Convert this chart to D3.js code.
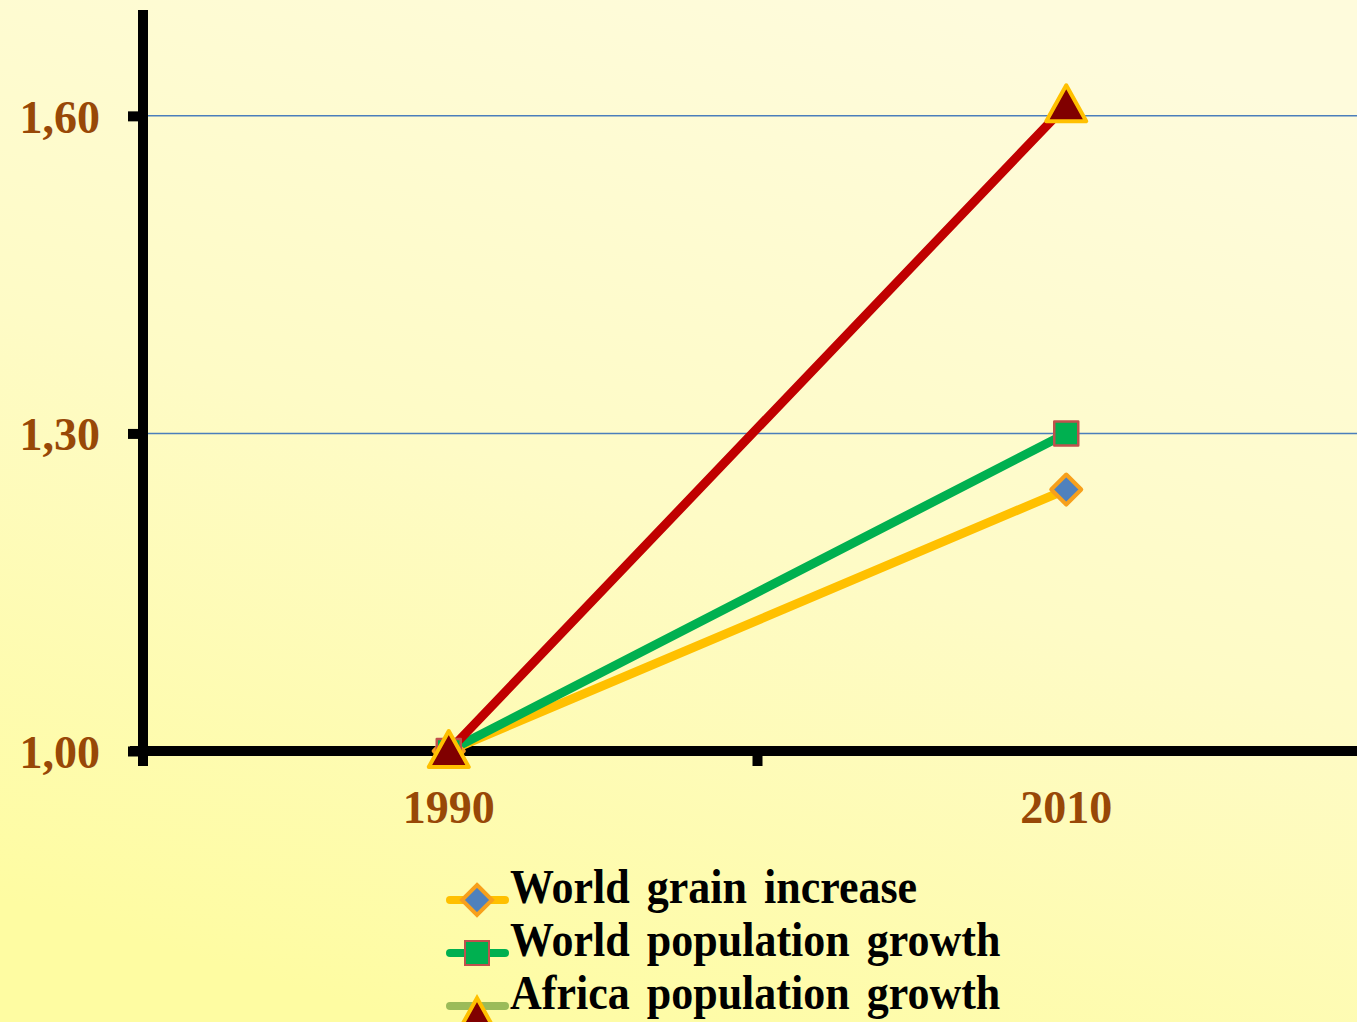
<!DOCTYPE html>
<html>
<head>
<meta charset="utf-8">
<script src="https://cdn.jsdelivr.net/npm/d3@7"></script>
<style>
  html, body { margin: 0; padding: 0; overflow: hidden; }
  svg { display: block; }
</style>
</head>
<body>
<div id="chart"></div>
<script>
const WIDTH = 1357;
const HEIGHT = 1022;

// data
const years = ['1990', '2010'];
const yTicks = [1.00, 1.30, 1.60];
const seriesNames = ['World grain increase', 'World population growth', 'Africa population growth'];
const grainValues = [1.00, 1.247];
const worldPopValues = [1.00, 1.30];
const africaPopValues = [1.00, 1.61];

const svg = d3.select('#chart')
  .append('svg')
  .attr('width', WIDTH)
  .attr('height', HEIGHT);

// background gradient
const defs = svg.append('defs');
const grad = defs.append('linearGradient')
  .attr('id', 'bg')
  .attr('x1', '0.7').attr('y1', '0')
  .attr('x2', '0.3').attr('y2', '1');
grad.append('stop').attr('offset', '0%').attr('stop-color', '#fefbdc');
grad.append('stop').attr('offset', '50%').attr('stop-color', '#fefbc6');
grad.append('stop').attr('offset', '100%').attr('stop-color', '#fefca2');
svg.append('rect')
  .attr('width', WIDTH).attr('height', HEIGHT)
  .attr('fill', 'url(#bg)');

const xScale = d3.scaleBand()
  .domain(years)
  .range([140, 1375]);

const yScale = d3.scaleLinear()
  .domain([1.0, 1.70])
  .range([751, 10]);

const xc = d => xScale(d) + xScale.bandwidth() / 2;

// gridlines
svg.append('g')
  .selectAll('line')
  .data(yTicks.slice(1))
  .enter()
  .append('line')
  .attr('x1', 143).attr('x2', WIDTH)
  .attr('y1', d => yScale(d)).attr('y2', d => yScale(d))
  .attr('stroke', '#4a7ebb')
  .attr('stroke-width', 1.5);

// y axis
const yAxis = d3.axisLeft(yScale)
  .tickValues(yTicks)
  .tickSize(15)
  .tickPadding(28)
  .tickFormat(d => d3.format('.2f')(d).replace('.', ','));
const gy = svg.append('g')
  .attr('transform', 'translate(143, 0)')
  .call(yAxis);
gy.select('.domain').remove();
gy.selectAll('.tick line').attr('stroke', '#000').attr('stroke-width', 10);
gy.selectAll('.tick text')
  .attr('fill', '#984807')
  .attr('dy', '0.36em')
  .style('font-family', '"Liberation Serif", "Times New Roman", serif')
  .style('font-weight', 'bold')
  .style('font-size', '46px');
gy.append('line')
  .attr('x1', 0).attr('x2', 0)
  .attr('y1', 10).attr('y2', 766)
  .attr('stroke', '#000').attr('stroke-width', 10);

// x axis
const gx = svg.append('g')
  .attr('transform', 'translate(0, 751)');
gx.append('line')
  .attr('x1', 130).attr('x2', WIDTH)
  .attr('y1', 0).attr('y2', 0)
  .attr('stroke', '#000').attr('stroke-width', 10);
gx.selectAll('.tickmark')
  .data(years.slice(1))
  .enter()
  .append('line')
  .attr('class', 'tickmark')
  .attr('x1', d => xScale(d)).attr('x2', d => xScale(d))
  .attr('y1', 0).attr('y2', 15)
  .attr('stroke', '#000').attr('stroke-width', 10);
gx.selectAll('.label')
  .data(years)
  .enter()
  .append('text')
  .attr('class', 'label')
  .attr('x', d => xc(d))
  .attr('y', 72)
  .attr('text-anchor', 'middle')
  .attr('fill', '#984807')
  .style('font-family', '"Liberation Serif", "Times New Roman", serif')
  .style('font-weight', 'bold')
  .style('font-size', '46px')
  .text(d => d);

const series = [
  { name: seriesNames[0], values: grainValues, line: '#ffc000', shape: 'diamond', fill: '#4f81bd', stroke: '#f7a01c', legendLine: '#ffc000' },
  { name: seriesNames[1], values: worldPopValues, line: '#00b050', shape: 'square', fill: '#00b050', stroke: '#c0504d', legendLine: '#00b050' },
  { name: seriesNames[2], values: africaPopValues, line: '#c00000', shape: 'triangle', fill: '#800000', stroke: '#ffc000', legendLine: '#9bbb59' }
];

const lineGen = d3.line()
  .x((d, i) => xc(years[i]))
  .y(d => yScale(d));

svg.append('g')
  .selectAll('path')
  .data(series)
  .enter()
  .append('path')
  .attr('d', d => lineGen(d.values))
  .attr('fill', 'none')
  .attr('stroke', d => d.line)
  .attr('stroke-width', 9)
  .attr('stroke-linecap', 'round');

function markerPath(shape) {
  if (shape === 'diamond') return 'M0,-15L15,0L0,15L-15,0Z';
  if (shape === 'square') return 'M-12,-12H12V12H-12Z';
  return 'M0,-20L20,16H-20Z';
}

series.forEach(s => {
  svg.append('g')
    .selectAll('path')
    .data(s.values)
    .enter()
    .append('path')
    .attr('transform', (d, i) => 'translate(' + xc(years[i]) + ',' + yScale(d) + ')')
    .attr('d', markerPath(s.shape))
    .attr('fill', s.fill)
    .attr('stroke', s.stroke)
    .attr('stroke-width', s.shape === 'square' ? 2.5 : 4)
    .attr('stroke-linejoin', 'round');
});

// legend
const legend = svg.append('g');
const rows = legend.selectAll('g')
  .data(series)
  .enter()
  .append('g')
  .attr('transform', (d, i) => 'translate(0,' + (900 + i * 53) + ')');
rows.append('line')
  .attr('x1', 450).attr('x2', 505)
  .attr('y1', 0).attr('y2', 0)
  .attr('stroke', d => d.legendLine)
  .attr('stroke-width', 8)
  .attr('stroke-linecap', 'round');
rows.append('path')
  .attr('transform', d => 'translate(477,' + (d.shape === 'triangle' ? 12 : 0) + ')')
  .attr('d', d => markerPath(d.shape))
  .attr('fill', d => d.fill)
  .attr('stroke', d => d.stroke)
  .attr('stroke-width', d => d.shape === 'square' ? 2 : 4);
rows.append('text')
  .attr('transform', 'translate(510,3) scale(1,1.1)')
  .attr('fill', '#000')
  .style('font-family', '"Liberation Serif", "Times New Roman", serif')
  .style('font-weight', 'bold')
  .style('font-size', '44px')
  .style('word-spacing', '6px')
  .text(d => d.name);
</script>
</body>
</html>
